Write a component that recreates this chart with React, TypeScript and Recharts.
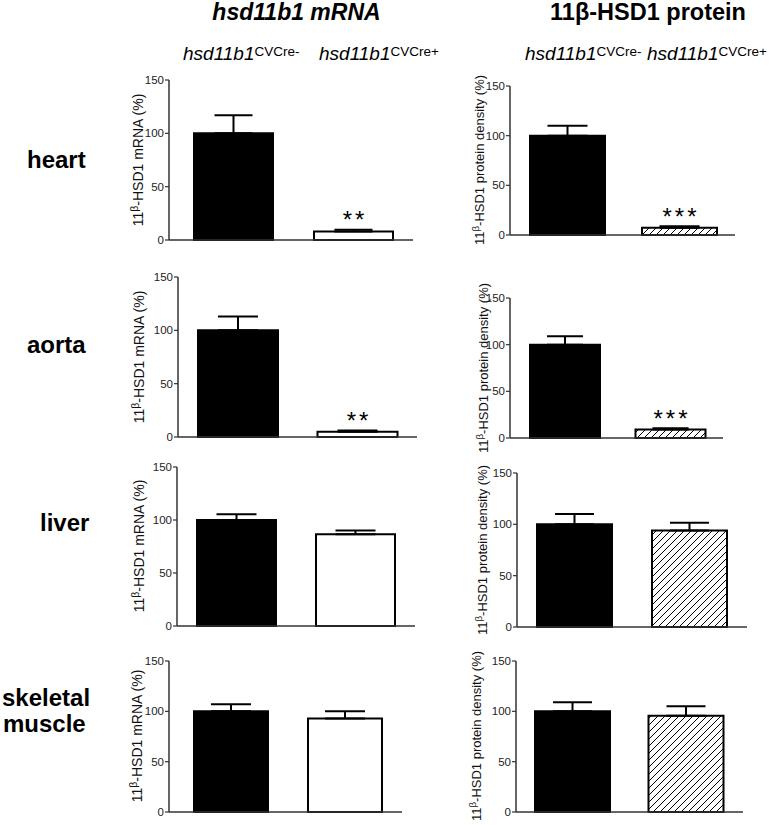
import React from "react";
import { BarChart, Bar, XAxis, YAxis, ErrorBar, Cell, LabelList } from "recharts";

const groups = ["CVCre-", "CVCre+"];
const tissues = ["heart", "aorta", "liver", "skeletal", "muscle"];
const yTicks = [0, 50, 100, 150];

// % of CVCre- control, mean and SEM per tissue [CVCre-, CVCre+]
const mrnaMean = [[100, 8], [100, 5], [100, 86.5], [100, 93]];
const mrnaSem = [[17, 1.5], [13, 1], [5.5, 3.5], [7, 7]];
const mrnaStars = ["**", "**", "", ""];

const proteinMean = [[100, 7.3], [100, 9], [100, 94], [100, 95.5]];
const proteinSem = [[10, 1.4], [9, 1.5], [10, 7.5], [9, 9.5]];
const proteinStars = ["***", "***", "", ""];

const FONT = "'Liberation Sans', Arial, sans-serif";
const AXIS = "#333";

// page positions of each panel's plot area
const mrnaLayout = [
  { axisX: 169, top: 80, right: 413, bottom: 240, barSize: 79, padL: 4, cap: 19, titleX: 138, titleY: 160 },
  { axisX: 178, top: 277, right: 417, bottom: 437, barSize: 80, padL: 0, cap: 20, titleX: 139, titleY: 357 },
  { axisX: 177, top: 467, right: 415, bottom: 626, barSize: 79, padL: 0, cap: 20, titleX: 139, titleY: 546 },
  { axisX: 169, top: 661, right: 402, bottom: 812, barSize: 74, padL: 5, cap: 20, titleX: 137, titleY: 736 },
];
const proteinLayout = [
  { axisX: 510, top: 86, right: 735, bottom: 235, barSize: 75, padL: 1, cap: 20, titleX: 479, titleY: 160 },
  { axisX: 510, top: 298, right: 723, bottom: 438, barSize: 70, padL: 2, cap: 18, titleX: 483, titleY: 368 },
  { axisX: 517, top: 473, right: 747, bottom: 627, barSize: 75, padL: 0, cap: 19.5, titleX: 482, titleY: 550 },
  { axisX: 516, top: 661, right: 743, bottom: 812, barSize: 75, padL: 0, cap: 19.5, titleX: 476, titleY: 736 },
];

const rowLabels = [
  { text: tissues[0], x: 27, y: 168 },
  { text: tissues[1], x: 27, y: 353 },
  { text: tissues[2], x: 40, y: 531 },
  { text: tissues[3], x: 2, y: 706 },
  { text: tissues[4], x: 3, y: 732 },
];

const renderStars = (props: any) => {
  const { x, y, width, value } = props;
  if (!value) return null;
  return (
    <text x={x + width / 2 + 1.5} y={y - 3} textAnchor="middle" fontSize={24} letterSpacing={3} fill="#000">
      {value}
    </text>
  );
};

function Panel({ means, sems, stars, layout, hatched, id }: any) {
  const data = groups.map((g, i) => ({
    group: g,
    mean: means[i],
    err: [0, sems[i]],
    stars: i === 1 ? stars : "",
  }));
  const w = layout.right - layout.axisX + 70;
  const h = layout.bottom - layout.top + 42;
  const second = hatched ? `url(#${id})` : "#fff";
  return (
    <div style={{ position: "absolute", left: layout.axisX - 60, top: layout.top - 30 }}>
      <BarChart width={w} height={h} data={data} margin={{ top: 30, right: 10, bottom: 0, left: 0 }}>
        <defs>
          <pattern id={id} patternUnits="userSpaceOnUse" width={7} height={7}>
            <rect width={7} height={7} fill="#fff" />
            <path d="M0,7 L7,0 M-1,1 L1,-1 M6,8 L8,6" stroke="#000" strokeWidth={1} />
          </pattern>
        </defs>
        <XAxis
          dataKey="group"
          tick={false}
          tickSize={5}
          height={12}
          axisLine={{ stroke: AXIS, strokeWidth: 1.5 }}
          tickLine={{ stroke: AXIS, strokeWidth: 1.2 }}
          padding={{ left: layout.padL, right: 0 }}
        />
        <YAxis
          domain={[0, 150]}
          ticks={yTicks}
          width={60}
          tickSize={4}
          tickMargin={1}
          axisLine={{ stroke: AXIS, strokeWidth: 1.5 }}
          tickLine={{ stroke: AXIS, strokeWidth: 1.2 }}
          tick={{ fill: "#222", fontSize: 11.5 }}
        />
        <Bar dataKey="mean" barSize={layout.barSize} isAnimationActive={false} stroke="#000" strokeWidth={2}>
          {data.map((d, i) => (
            <Cell key={d.group} fill={i === 0 ? "#000" : second} />
          ))}
          <ErrorBar dataKey="err" width={layout.cap} stroke="#000" strokeWidth={2} direction="y" isAnimationActive={false} />
          <LabelList dataKey="stars" content={renderStars} />
        </Bar>
      </BarChart>
    </div>
  );
}

function GroupLabel({ x, suffix }: { x: number; suffix: string }) {
  return (
    <text x={x} y={60} fontSize={19} fontStyle="italic" fill="#000">
      hsd11b1
      <tspan fontStyle="normal" fontSize={13.5} dy={-4}>
        {suffix}
      </tspan>
    </text>
  );
}

function AxisTitle({ x, y, label, size }: any) {
  return (
    <text
      x={x}
      y={y}
      transform={`rotate(-90 ${x} ${y})`}
      textAnchor="middle"
      dominantBaseline="central"
      fontSize={size}
      fill="#111"
    >
      11
      <tspan fontSize={size * 0.75} dy={-4}>
        β
      </tspan>
      <tspan dy={4}>{label}</tspan>
    </text>
  );
}

export default function App() {
  return (
    <div
      style={{
        position: "absolute",
        left: 0,
        top: 0,
        width: 778,
        height: 825,
        background: "#fff",
        fontFamily: FONT,
      }}
    >
      <svg width={778} height={825} style={{ position: "absolute", left: 0, top: 0 }}>
        <text x={296.5} y={20} textAnchor="middle" fontSize={23} fontWeight="bold" fontStyle="italic">
          hsd11b1 mRNA
        </text>
        <text x={648} y={19.5} textAnchor="middle" fontSize={23.5} fontWeight="bold">
          11β-HSD1 protein
        </text>
        <GroupLabel x={183} suffix={groups[0]} />
        <GroupLabel x={319} suffix={groups[1]} />
        <GroupLabel x={525} suffix={groups[0]} />
        <GroupLabel x={647} suffix={groups[1]} />
        {rowLabels.map((r) => (
          <text key={r.text} x={r.x} y={r.y} fontSize={24} fontWeight="bold">
            {r.text}
          </text>
        ))}
        {mrnaLayout.map((l, i) => (
          <AxisTitle key={"m" + i} x={l.titleX} y={l.titleY} size={14} label="-HSD1 mRNA (%)" />
        ))}
        {proteinLayout.map((l, i) => (
          <AxisTitle key={"p" + i} x={l.titleX} y={l.titleY} size={13} label="-HSD1 protein density (%)" />
        ))}
      </svg>
      {mrnaLayout.map((l, i) => (
        <Panel
          key={"mp" + i}
          id={"m" + i}
          means={mrnaMean[i]}
          sems={mrnaSem[i]}
          stars={mrnaStars[i]}
          layout={l}
          hatched={false}
        />
      ))}
      {proteinLayout.map((l, i) => (
        <Panel
          key={"pp" + i}
          id={"hatch" + i}
          means={proteinMean[i]}
          sems={proteinSem[i]}
          stars={proteinStars[i]}
          layout={l}
          hatched={true}
        />
      ))}
    </div>
  );
}
